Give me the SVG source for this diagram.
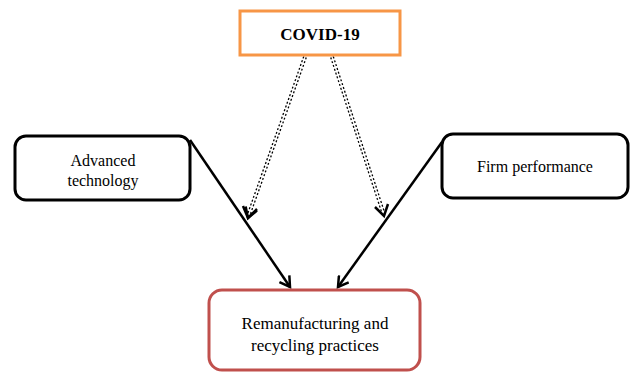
<svg xmlns="http://www.w3.org/2000/svg" width="630" height="376" viewBox="0 0 630 376">
<style>
.t{font-family:"Liberation Serif","Times New Roman",serif;fill:#000;text-anchor:middle}
.box{fill:#fff;stroke:#000;stroke-width:3}
.solid{stroke:#000;stroke-width:2.5;fill:none}
.dash{stroke:#000;stroke-width:4;fill:none;stroke-dasharray:2 2}
.gap{stroke:#fff;stroke-width:1.4;fill:none}
</style>
<defs>
<marker id="ah" markerWidth="14" markerHeight="14" refX="11" refY="7" orient="auto" markerUnits="userSpaceOnUse">
<path d="M1,1 L11,7 L1,13" fill="none" stroke="#000" stroke-width="2.5"/>
</marker>
<marker id="ah2" markerWidth="14" markerHeight="14" refX="11" refY="7" orient="auto" markerUnits="userSpaceOnUse">
<path d="M1,1 L11,7 L1,13" fill="none" stroke="#000" stroke-width="2.5"/>
</marker>
</defs>
<g id="connectors">
<line class="solid" x1="190" y1="140" x2="290" y2="287" marker-end="url(#ah)"/>
<line class="solid" x1="442" y1="142" x2="338" y2="287" marker-end="url(#ah)"/>
<line class="dash" x1="305" y1="57" x2="249" y2="214"/>
<line class="gap" x1="305" y1="57" x2="249" y2="214"/>
<line x1="255" y1="198" x2="248" y2="218" stroke="none" marker-end="url(#ah2)"/>
<path d="M243,206 L248,218 L257,209" fill="none" stroke="#000" stroke-width="2.5"/>
<line class="dash" x1="332" y1="57" x2="383" y2="212"/>
<line class="gap" x1="332" y1="57" x2="383" y2="212"/>
<path d="M375,207 L384,216 L388,204" fill="none" stroke="#000" stroke-width="2.5"/>
</g>
<g id="covid">
<rect x="240" y="11" width="160" height="44" fill="#fff" stroke="#F79646" stroke-width="3"/>
<text class="t" x="320" y="39.5" font-size="17" font-weight="bold">COVID-19</text>
</g>
<g id="advanced">
<rect class="box" x="15" y="136" width="175" height="64" rx="11"/>
<text class="t" x="103" y="166" font-size="16">Advanced</text>
<text class="t" x="103" y="186" font-size="16">technology</text>
</g>
<g id="firm">
<rect class="box" x="442" y="134" width="186" height="64" rx="11"/>
<text class="t" x="535" y="172" font-size="16">Firm performance</text>
</g>
<g id="reman">
<rect x="209" y="290" width="211" height="80" rx="13" fill="#fff" stroke="#C0504D" stroke-width="3"/>
<text class="t" x="315" y="329" font-size="17">Remanufacturing and</text>
<text class="t" x="315" y="351" font-size="17">recycling practices</text>
</g>
</svg>
